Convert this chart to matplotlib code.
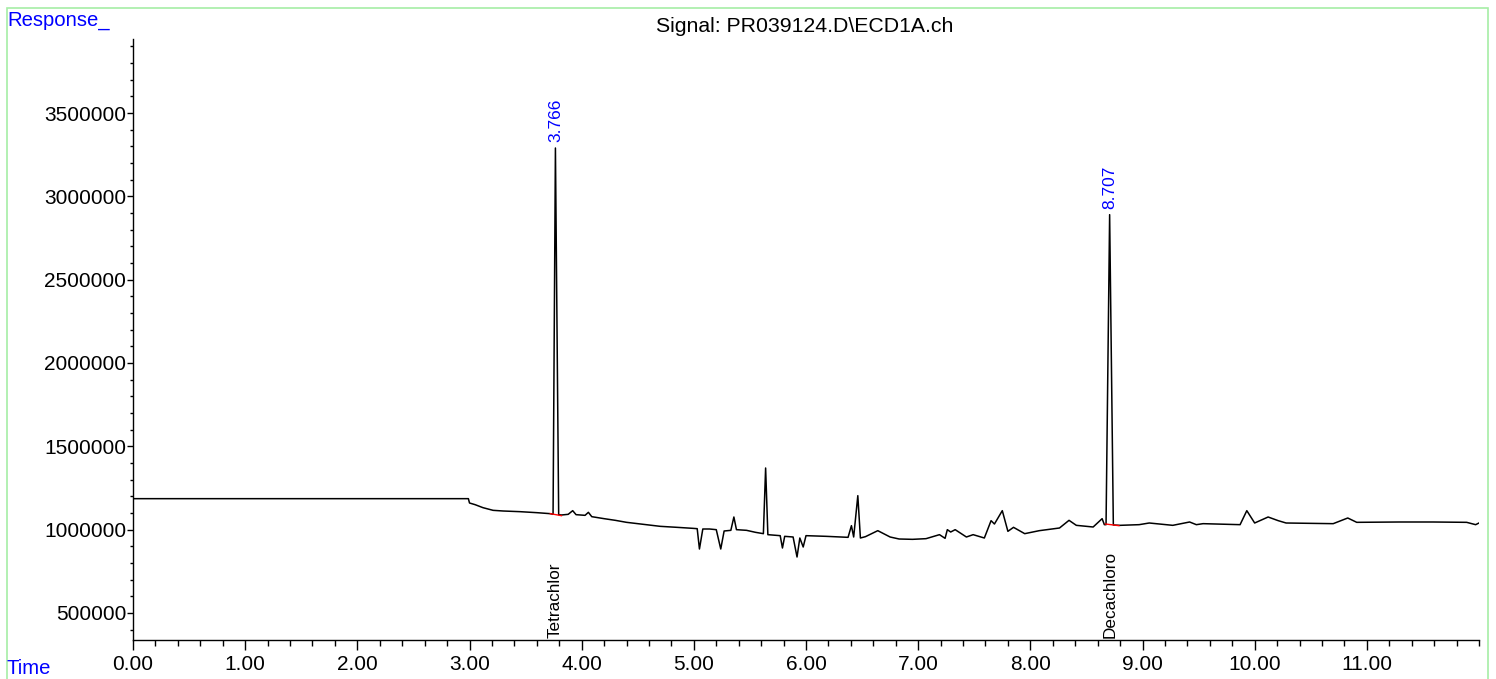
import matplotlib.pyplot as plt
from matplotlib.patches import Rectangle
from matplotlib.ticker import MultipleLocator, FixedLocator
import matplotlib.transforms as mtransforms

plt.rcParams['font.family'] = ['Liberation Sans', 'DejaVu Sans']

# Chromatogram trace (time in min, response)
time = [0.00, 2.99, 3.00, 3.05, 3.12, 3.21, 3.30, 3.45, 3.60, 3.72, 3.745,
        3.766, 3.795, 3.82, 3.88, 3.92, 3.95, 4.03, 4.06, 4.09, 4.20, 4.30,
        4.40, 4.55, 4.70, 4.85, 4.99, 5.03, 5.05, 5.08, 5.14, 5.20, 5.24,
        5.27, 5.33, 5.357, 5.38, 5.47, 5.55, 5.62, 5.64, 5.66, 5.77, 5.79,
        5.81, 5.885, 5.92, 5.945, 5.975, 6.00, 6.18, 6.375, 6.405, 6.425,
        6.462, 6.485, 6.53, 6.64, 6.75, 6.83, 6.95, 7.07, 7.19, 7.24, 7.26,
        7.29, 7.33, 7.43, 7.49, 7.59, 7.65, 7.68, 7.75, 7.80, 7.85, 7.95,
        8.08, 8.26, 8.345, 8.41, 8.56, 8.64, 8.66, 8.675, 8.707, 8.74, 8.80,
        8.97, 9.06, 9.27, 9.42, 9.48, 9.54, 9.87, 9.93, 10.00, 10.12, 10.21,
        10.28, 10.70, 10.83, 10.91, 11.29, 11.59, 11.89, 11.97, 12.00]
response = [1186000, 1186000, 1160000, 1150000, 1132000, 1116000, 1112000,
            1108000, 1102000, 1096000, 1092000, 3290000, 1090000, 1088000,
            1092000, 1114000, 1090000, 1086000, 1104000, 1078000, 1066000,
            1056000, 1044000, 1032000, 1020000, 1014000, 1008000, 1006000,
            884000, 1004000, 1004000, 1000000, 884000, 992000, 996000,
            1076000, 1000000, 996000, 984000, 976000, 1370000, 970000,
            964000, 890000, 960000, 956000, 836000, 950000, 896000, 964000,
            960000, 954000, 1024000, 956000, 1204000, 950000, 958000,
            994000, 956000, 944000, 942000, 946000, 970000, 948000, 1000000,
            986000, 1000000, 956000, 970000, 950000, 1054000, 1034000,
            1114000, 990000, 1014000, 976000, 994000, 1010000, 1056000,
            1026000, 1016000, 1066000, 1030000, 1030000, 2890000, 1028000,
            1026000, 1030000, 1040000, 1026000, 1046000, 1030000, 1036000,
            1030000, 1114000, 1040000, 1076000, 1054000, 1040000, 1036000,
            1070000, 1044000, 1046000, 1046000, 1044000, 1030000, 1040000]

# Integrated peaks
peak_rt = [3.766, 8.707]
peak_top = [3290000, 2890000]
peak_names = ['Tetrachlor', 'Decachloro']
base_t0 = [3.72, 8.67]
base_t1 = [3.82, 8.79]
base_y0 = [1096000, 1034000]
base_y1 = [1084000, 1024000]

fig = plt.figure(figsize=(14.96, 6.79), dpi=100)
ax = fig.add_axes([133 / 1496, 1 - 640 / 679, (1479 - 133) / 1496, (640 - 39) / 679])

ax.plot(time, response, color='black', lw=1.1)
for t0, t1, y0, y1 in zip(base_t0, base_t1, base_y0, base_y1):
    ax.plot([t0, t1], [y0, y1], color='red', lw=1.0)

ax.set_xlim(0, 12)
ax.set_ylim(338000, 3944000)
for s in ['top', 'right']:
    ax.spines[s].set_visible(False)
ax.spines['left'].set_linewidth(1.0)
ax.spines['bottom'].set_linewidth(1.0)

ax.xaxis.set_major_locator(FixedLocator(range(0, 12)))
ax.xaxis.set_minor_locator(MultipleLocator(0.2))
ax.set_xticklabels([f'{v:.2f}' for v in range(0, 12)])
ax.yaxis.set_major_locator(MultipleLocator(500000))
ax.yaxis.set_minor_locator(MultipleLocator(100000))
ax.yaxis.set_major_formatter(plt.FuncFormatter(lambda v, p: f'{int(v)}'))
ax.tick_params(axis='x', which='major', length=7.5, width=1, pad=3, labelsize=15)
ax.tick_params(axis='x', which='minor', length=4.5, width=1)
ax.tick_params(axis='y', which='major', length=4, width=1, pad=1, labelsize=15)
ax.tick_params(axis='y', which='minor', length=2.5, width=1)

# Peak retention time labels and compound names
trans = mtransforms.blended_transform_factory(ax.transData, ax.transAxes)
for rt, top, name in zip(peak_rt, peak_top, peak_names):
    ax.annotate(f'{rt:.3f}', (rt, top), xytext=(0, 4), textcoords='offset points',
                rotation=90, ha='center', va='bottom', color='blue', fontsize=12.5)
    ax.text(rt, 0.003, name, transform=trans, rotation=90, ha='center',
            va='bottom', fontsize=12.3)

fig.text(805 / 1496, 1 - 27 / 679, 'Signal: PR039124.D\\ECD1A.ch',
         ha='center', va='center', fontsize=15.3)
fig.text(7 / 1496, 1 - 20 / 679, 'Response_', ha='left', va='center',
         color='blue', fontsize=14.6)
fig.text(7 / 1496, 1 - 669 / 679, 'Time', ha='left', va='center',
         color='blue', fontsize=14.6)

fig.patches.append(Rectangle((6.5 / 1496, -0.05), (1488 - 6.5) / 1496, 1.05 - 7.5 / 679,
                             transform=fig.transFigure, fill=False,
                             edgecolor='#a6eea6', lw=1.2))

fig.savefig('out.png', dpi=100)
